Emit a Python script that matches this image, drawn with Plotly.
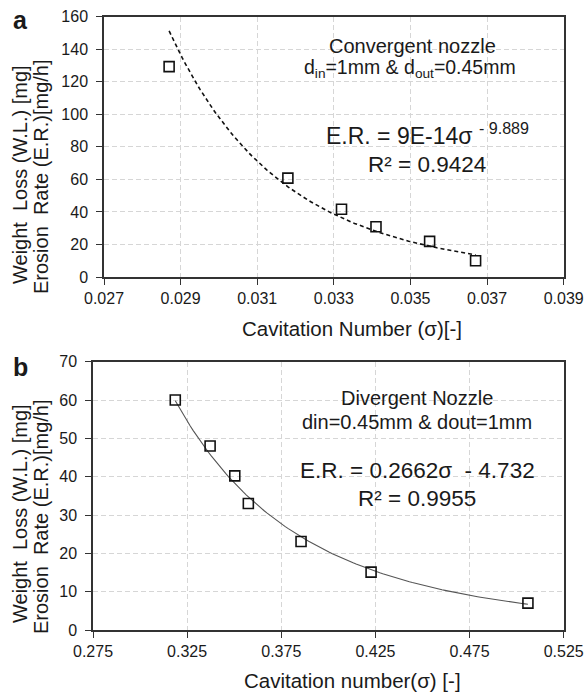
import numpy as np
import plotly.graph_objects as go

# ---------------- data ----------------
conv_sigma = [0.0287, 0.0318, 0.0332, 0.0341, 0.0355, 0.0367]
conv_er = [129.3, 60.8, 41.6, 30.9, 21.9, 10.0]

div_sigma = [0.3187, 0.3372, 0.3503, 0.3575, 0.3855, 0.4227, 0.5060]
div_er = [60.0, 48.0, 40.2, 33.0, 23.1, 15.1, 7.0]

conv_xticks = [0.027, 0.029, 0.031, 0.033, 0.035, 0.037, 0.039]
conv_yticks = [0, 20, 40, 60, 80, 100, 120, 140, 160]
div_xticks = [0.275, 0.325, 0.375, 0.425, 0.475, 0.525]
div_yticks = [0, 10, 20, 30, 40, 50, 60, 70]

W, H = 588, 694
FONT = "Arial, Liberation Sans, sans-serif"
TXT = "#1a1a1a"


def power_trend(xs, ys, n=120):
    """Excel-style power trendline: least squares on ln(y) vs ln(x)."""
    lx, ly = np.log(xs), np.log(ys)
    b, ln_a = np.polyfit(lx, ly, 1)
    xx = np.linspace(min(xs), max(xs), n)
    return xx, np.exp(ln_a) * xx ** b


def px(x):
    return x / W


def py(y):
    return 1 - y / H


fig = go.Figure()

# top panel
tx, ty = power_trend(conv_sigma, conv_er)
fig.add_trace(go.Scatter(x=tx, y=ty, mode="lines", xaxis="x", yaxis="y",
                         line=dict(color="#111111", width=1.6, dash="4px,3px"),
                         hoverinfo="skip", showlegend=False))
fig.add_trace(go.Scatter(x=conv_sigma, y=conv_er, mode="markers", xaxis="x", yaxis="y",
                         marker=dict(symbol="square-open", size=10, color="#111111",
                                     line=dict(width=1.6)),
                         showlegend=False))

# bottom panel
bx, by = power_trend(div_sigma, div_er)
fig.add_trace(go.Scatter(x=bx, y=by, mode="lines", xaxis="x2", yaxis="y2",
                         line=dict(color="#555555", width=1.1),
                         hoverinfo="skip", showlegend=False))
fig.add_trace(go.Scatter(x=div_sigma, y=div_er, mode="markers", xaxis="x2", yaxis="y2",
                         marker=dict(symbol="square-open", size=10, color="#111111",
                                     line=dict(width=1.6)),
                         showlegend=False))

axis_common = dict(
    showline=True, linecolor="#333333", linewidth=1.5, mirror=True,
    ticks="outside", ticklen=6, tickwidth=1.2, tickcolor="#333333",
    showgrid=True, gridcolor="#d6d6d6", gridwidth=1, griddash="5px,3px",
    zeroline=False, automargin=False,
    tickfont=dict(family=FONT, size=16, color=TXT),
)

fig.update_layout(
    width=W, height=H,
    margin=dict(l=0, r=0, t=0, b=0),
    paper_bgcolor="white", plot_bgcolor="white",
    showlegend=False,
    xaxis=dict(axis_common, domain=[px(104), px(563.7)], anchor="y",
               range=[0.027, 0.039], tickvals=conv_xticks, tickformat=".3f"),
    yaxis=dict(axis_common, domain=[py(277), py(16.7)], anchor="x",
               range=[0, 160], tickvals=conv_yticks, ticklabelstandoff=5),
    xaxis2=dict(axis_common, domain=[px(93), px(563.7)], anchor="y2",
                range=[0.275, 0.525], tickvals=div_xticks, tickformat=".3f"),
    yaxis2=dict(axis_common, domain=[py(630), py(361.7)], anchor="x2",
                range=[0, 70], tickvals=div_yticks, ticklabelstandoff=5),
)

ann = []


def add_text(text, x, y, size, angle=0, bold=False):
    ann.append(dict(text=f"<b>{text}</b>" if bold else text,
                    x=px(x), y=py(y), xref="paper", yref="paper",
                    xanchor="center", yanchor="middle", showarrow=False,
                    textangle=angle, font=dict(family=FONT, size=size, color=TXT)))


# panel letters
add_text("a", 20, 20, 25, bold=True)
add_text("b", 20, 367, 25, bold=True)

# y titles
add_text("Weight  Loss (W.L.) [mg]", 20, 175, 20, angle=-90)
add_text("Erosion  Rate (E.R.)[mg/h]", 41, 177, 20, angle=-90)
add_text("Weight  Loss (W.L.) [mg]", 20, 514, 20, angle=-90)
add_text("Erosion  Rate (E.R.)[mg/h]", 41, 517, 20, angle=-90)

# x titles
add_text("Cavitation Number (σ)[-]", 352, 328, 20.5)
add_text("Cavitation number(σ) [-]", 352, 680, 20.5)

# top panel text
add_text("Convergent nozzle", 413, 46, 20)
add_text("d<sub>in</sub>=1mm &amp; d<sub>out</sub>=0.45mm", 410, 69, 19.5)
add_text("E.R. = 9E-14σ <sup>- 9.889</sup>", 427, 134, 23)
add_text("R² = 0.9424", 427, 164, 22.5)

# bottom panel text
add_text("Divergent Nozzle", 417, 398, 20)
add_text("din=0.45mm &amp; dout=1mm", 417, 422, 20)
add_text("E.R. = 0.2662σ  - 4.732", 417, 470, 22.5)
add_text("R² = 0.9955", 417, 498, 22.5)

fig.update_layout(annotations=ann)

fig.write_html("out.html",
               config={"displayModeBar": False},
               post_script="document.body.style.margin='0';document.body.style.padding='0';")
